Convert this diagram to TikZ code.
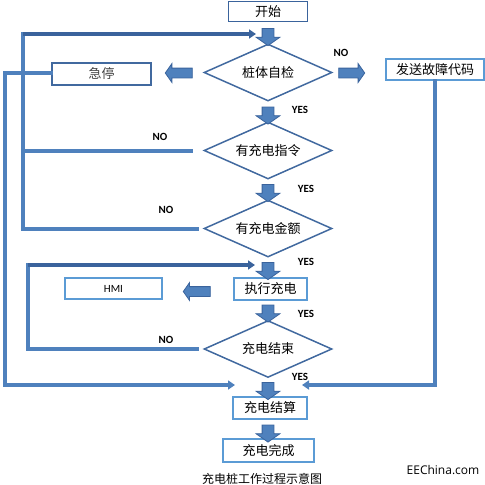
\documentclass[tikz,border=0pt]{standalone}
\usepackage{fontspec}
\setmainfont{Carlito}
\newfontfamily\cjk{Noto Sans CJK SC}
\newfontfamily\eefont{Open Sans}
\usetikzlibrary{shapes.geometric,shapes.arrows,arrows.meta}
\definecolor{lineblue}{HTML}{4F81BD}
\definecolor{darkblue}{HTML}{3A639C}
\definecolor{lightblue}{HTML}{5B9BD5}
\definecolor{diablue}{HTML}{41699F}
\begin{document}
\begin{tikzpicture}[x=1pt,y=-1pt,
  box/.style={rectangle, draw=lightblue, line width=2pt, inner sep=0pt, font=\cjk\fontsize{13}{15}\selectfont},
  dia/.style={diamond, draw=diablue, line width=1.5pt, aspect=2.2, inner sep=0pt, minimum width=128pt, minimum height=57pt, font=\cjk\fontsize{13}{15}\selectfont},
  fat/.style={single arrow, draw=darkblue, fill=lineblue, line width=.8pt, inner sep=0pt},
  downfat/.style={fat, inner xsep=5.5pt, minimum height=17pt, single arrow head extend=6pt, single arrow tip angle=110, shape border rotate=270},
  sidefat/.style={fat, inner ysep=4.5pt, minimum height=27pt, single arrow head extend=4.5pt, single arrow tip angle=110},
  wire/.style={draw=lineblue, line width=4pt, line cap=rect},
  feed/.style={draw=darkblue, line width=3.5pt},
  pointy/.style={-{Triangle[length=7pt,width=9pt]}},
  lbl/.style={font=\bfseries\fontsize{11}{13}\selectfont}]
\useasboundingbox (0,0) rectangle (485,485);
\node[box, draw=darkblue, line width=1.5pt, minimum width=79pt, minimum height=20pt] (start) at (268,11.5) {开始};
\node[dia] (check) at (268,72.5) {桩体自检};
\node[box, draw=diablue, minimum width=99pt, minimum height=22pt, text=darkgray] (stop) at (101.5,74) {急停};
\node[box, minimum width=98pt, minimum height=21pt] (fault) at (435,69.5) {发送故障代码};
\node[dia] (order) at (268,150.5) {有充电指令};
\node[dia] (money) at (268,228.5) {有充电金额};
\node[box, line width=2.5pt, minimum width=73pt, minimum height=22pt] (charge) at (270.5,289) {执行充电};
\node[box, minimum width=97pt, minimum height=21pt, font=\fontsize{11}{13}\selectfont] (hmi) at (113.5,288.5) {HMI};
\node[dia] (finish) at (268,349) {充电结束};
\node[box, line width=2.5pt, minimum width=74pt, minimum height=22pt] (settle) at (270,408) {充电结算};
\node[box, line width=2.5pt, minimum width=91pt, minimum height=23pt] (done) at (268.5,450.5) {充电完成};
% fat arrows
\node[downfat] (fa1) at (268,35) {};
\node[downfat] (fa2) at (268,113.5) {};
\node[downfat] (fa3) at (268,191) {};
\node[downfat] (fa4) at (268,269) {};
\node[downfat] (fa5) at (268,311.5) {};
\node[downfat] (fa6) at (268,389) {};
\node[downfat] (fa7) at (268,431.5) {};
\node[sidefat, shape border rotate=180] (fstop) at (180.5,73) {};
\node[sidefat, minimum height=26pt] (ffault) at (350,73) {};
\node[sidefat, shape border rotate=180, single arrow head extend=4pt] (fhmi) at (198.5,291.5) {};
% labels
\node[lbl] (no1) at (341,53) {NO};
\node[lbl] (yes1) at (300,110) {YES};
\node[lbl] (no2) at (160,137) {NO};
\node[lbl] (yes2) at (306,189) {YES};
\node[lbl] (no3) at (166,210) {NO};
\node[lbl] (yes3) at (306,262) {YES};
\node[lbl] (yes4) at (306,314) {YES};
\node[lbl] (no4) at (166,340) {NO};
\node[lbl] (yes5) at (300,377) {YES};
% loops
\coordinate (l1) at (23,34);
\coordinate (in1) at (256,34);
\coordinate (l2) at (28,265);
\coordinate (in2) at (255,265);
\coordinate (l3) at (5,385);
\coordinate (inL) at (235,385);
\coordinate (inR) at (302,385);
\draw[wire] ([xshift=-6pt]money.west) -| (l1);
\draw[feed, pointy] (l1) -- (in1);
\draw[wire] ([xshift=-12pt]order.west) -- (order.west -| l1);
\draw[wire] ([yshift=1pt]stop.west) -| (l3);
\draw[wire, pointy] (l3) -- (inL);
\draw[wire, pointy] (fault.south) |- (inR);
\draw[wire] ([xshift=-6pt]finish.west) -| (l2);
\draw[feed, pointy] (l2) -- (in2);
\node[font=\cjk\fontsize{12}{14}\selectfont] (title) at (262,478.5) {充电桩工作过程示意图};
\node[font=\eefont\fontsize{12}{14}\selectfont] (mark) at (443,470) {EEChina.com};
\end{tikzpicture}
\end{document}
